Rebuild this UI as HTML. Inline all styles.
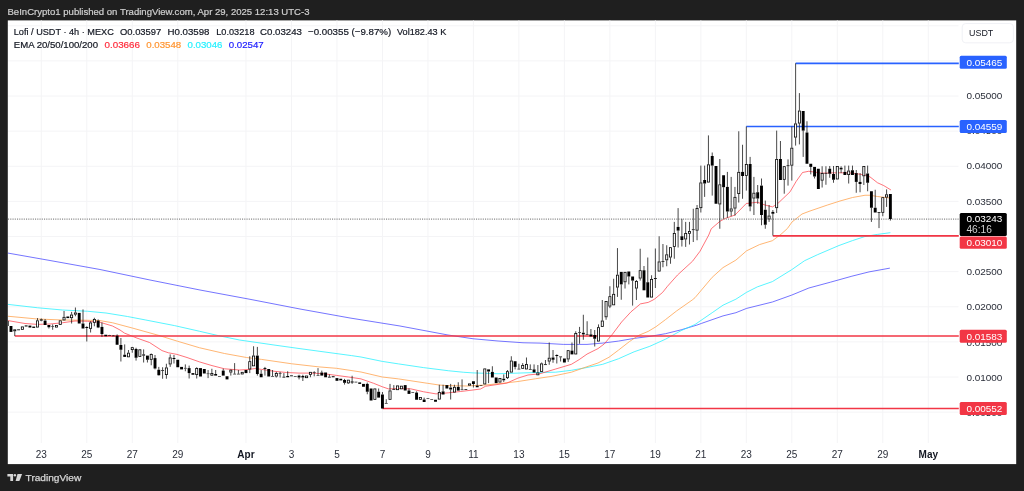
<!DOCTYPE html>
<html lang="en"><head><meta charset="utf-8"><title>Lofi / USDT chart</title>
<style>html,body{margin:0;padding:0;background:#1f1f1f;}body{width:1024px;height:491px;overflow:hidden;}svg{display:block;filter:blur(0.3px);}text{font-family:'Liberation Sans', Arial, sans-serif;}</style>
</head><body>
<svg width="1024" height="491" viewBox="0 0 1024 491">
<rect x="0" y="0" width="1024" height="491" fill="#1f1f1f"/>
<rect x="7.8" y="20.4" width="1008.4" height="443.7" fill="#ffffff"/>
<g stroke="#f4f4f6" stroke-width="1" shape-rendering="auto">
<line x1="41.30" y1="20.4" x2="41.30" y2="443" />
<line x1="86.79" y1="20.4" x2="86.79" y2="443" />
<line x1="132.27" y1="20.4" x2="132.27" y2="443" />
<line x1="177.76" y1="20.4" x2="177.76" y2="443" />
<line x1="245.99" y1="20.4" x2="245.99" y2="443" />
<line x1="291.47" y1="20.4" x2="291.47" y2="443" />
<line x1="336.96" y1="20.4" x2="336.96" y2="443" />
<line x1="382.45" y1="20.4" x2="382.45" y2="443" />
<line x1="427.93" y1="20.4" x2="427.93" y2="443" />
<line x1="473.42" y1="20.4" x2="473.42" y2="443" />
<line x1="518.90" y1="20.4" x2="518.90" y2="443" />
<line x1="564.39" y1="20.4" x2="564.39" y2="443" />
<line x1="609.88" y1="20.4" x2="609.88" y2="443" />
<line x1="655.36" y1="20.4" x2="655.36" y2="443" />
<line x1="700.85" y1="20.4" x2="700.85" y2="443" />
<line x1="746.33" y1="20.4" x2="746.33" y2="443" />
<line x1="791.82" y1="20.4" x2="791.82" y2="443" />
<line x1="837.30" y1="20.4" x2="837.30" y2="443" />
<line x1="882.79" y1="20.4" x2="882.79" y2="443" />
<line x1="928.28" y1="20.4" x2="928.28" y2="443" />
<line x1="8" y1="25.75" x2="958.5" y2="25.75" />
<line x1="8" y1="60.88" x2="958.5" y2="60.88" />
<line x1="8" y1="96.00" x2="958.5" y2="96.00" />
<line x1="8" y1="131.13" x2="958.5" y2="131.13" />
<line x1="8" y1="166.25" x2="958.5" y2="166.25" />
<line x1="8" y1="201.38" x2="958.5" y2="201.38" />
<line x1="8" y1="236.50" x2="958.5" y2="236.50" />
<line x1="8" y1="271.62" x2="958.5" y2="271.62" />
<line x1="8" y1="306.75" x2="958.5" y2="306.75" />
<line x1="8" y1="341.88" x2="958.5" y2="341.88" />
<line x1="8" y1="377.00" x2="958.5" y2="377.00" />
<line x1="8" y1="412.13" x2="958.5" y2="412.13" />
</g>
<defs><clipPath id="pane"><rect x="8" y="20.4" width="951" height="423"/></clipPath></defs>
<g clip-path="url(#pane)">
<polyline points="7.50,253.00 50.00,260.50 100.00,269.50 150.00,280.00 200.00,290.00 250.00,299.30 300.00,309.00 350.00,318.00 400.00,326.00 448.00,335.00 473.00,338.75 498.00,341.00 523.00,342.75 540.00,343.10 563.50,344.40 587.00,344.40 602.70,343.10 618.40,341.10 634.10,338.40 649.80,336.40 665.50,333.70 681.20,329.80 696.90,325.10 701.50,323.40 723.00,315.90 735.90,312.70 746.60,308.40 772.40,302.00 791.70,295.10 808.90,288.00 830.40,282.20 851.90,276.20 869.00,271.90 889.50,268.20" fill="none" stroke="#3c3cff" stroke-width="0.95" stroke-opacity="0.75" stroke-linejoin="round" stroke-linecap="round"/>
<polyline points="8.00,304.40 37.50,307.75 62.50,310.00 87.50,311.25 106.00,313.00 127.50,316.50 145.75,320.00 174.50,325.60 199.50,331.25 218.25,335.60 239.50,340.00 274.00,345.00 299.00,348.50 324.00,351.90 351.50,355.60 361.00,357.00 382.25,361.40 398.50,363.90 423.50,367.60 448.50,370.75 463.50,372.25 473.00,372.90 498.00,373.75 518.00,373.10 535.50,372.50 540.00,372.50 555.70,372.20 571.40,370.30 587.00,367.50 602.70,364.30 618.40,358.80 634.10,351.80 649.80,346.30 665.50,339.20 681.20,330.60 695.00,324.50 712.20,312.70 723.00,305.20 735.90,299.20 746.60,292.30 757.30,286.90 772.40,281.60 791.70,269.70 804.60,260.70 817.50,254.70 839.00,245.50 852.50,240.60 864.70,236.60 877.50,234.40 890.00,232.75" fill="none" stroke="#22f0ff" stroke-width="0.95" stroke-opacity="0.80" stroke-linejoin="round" stroke-linecap="round"/>
<polyline points="8.00,316.25 37.50,319.00 62.50,320.00 87.50,320.25 100.00,320.60 112.50,322.75 132.60,328.10 158.25,335.25 177.60,341.25 199.50,347.75 224.50,353.50 246.50,357.50 261.50,359.40 291.50,363.75 319.00,366.90 336.50,368.30 361.00,372.00 382.25,377.00 398.50,378.90 427.25,383.25 439.75,385.10 448.00,385.60 466.75,386.00 485.50,385.00 504.25,383.10 518.00,381.50 535.50,378.75 548.00,376.90 551.00,376.50 571.40,372.20 587.00,366.70 598.00,363.00 609.00,357.25 618.40,350.20 629.40,341.60 638.80,335.30 648.20,331.40 656.00,326.70 665.50,319.60 676.50,311.00 692.20,300.00 695.00,297.70 712.20,277.30 723.00,267.60 735.90,260.10 746.60,250.80 759.50,244.60 772.40,240.70 781.00,234.30 787.40,228.50 792.00,222.00 802.00,214.00 810.00,211.00 827.50,205.00 840.00,201.00 852.50,197.50 865.00,195.25 870.00,195.25 877.50,196.50 890.00,198.00" fill="none" stroke="#ff9f47" stroke-width="0.95" stroke-opacity="0.80" stroke-linejoin="round" stroke-linecap="round"/>
<polyline points="8.00,320.60 25.00,323.50 37.50,324.40 50.00,324.00 62.50,322.75 75.00,321.00 87.50,321.25 100.00,322.25 112.50,326.00 120.00,330.00 124.50,333.10 137.00,338.10 149.50,342.50 162.00,350.60 168.25,352.75 177.00,354.40 187.00,357.50 199.50,361.90 212.00,365.60 224.50,368.80 232.00,369.40 239.50,370.00 249.00,369.40 255.25,368.50 261.50,369.40 274.00,371.25 286.50,372.50 299.00,373.10 311.50,373.10 324.00,373.75 336.50,375.40 348.50,377.00 361.00,378.90 373.50,383.25 382.25,386.75 388.50,388.90 398.50,388.50 411.00,388.90 423.50,391.75 436.00,393.90 448.50,392.80 460.50,391.50 473.00,390.00 480.50,389.00 485.50,386.25 498.00,384.40 506.75,383.10 518.00,378.10 528.00,375.00 538.00,374.00 540.00,373.70 555.70,369.00 571.40,364.30 579.20,359.60 587.00,354.10 598.00,348.60 604.30,343.90 612.20,334.50 621.60,322.00 631.00,311.80 640.40,303.90 648.20,302.40 653.00,300.00 655.00,298.75 662.50,292.50 667.50,286.25 677.50,275.00 692.50,261.25 700.00,251.25 708.75,235.00 711.25,228.75 720.00,221.25 725.00,218.50 735.00,215.00 746.25,203.50 757.50,202.25 765.00,205.00 772.50,206.90 777.50,203.75 790.00,191.90 796.25,181.25 802.50,172.50 808.75,171.25 821.25,173.10 840.00,172.75 852.50,173.10 865.00,175.00 870.00,176.90 877.50,182.75 883.75,185.60 890.60,189.75" fill="none" stroke="#ff3b45" stroke-width="0.95" stroke-opacity="0.75" stroke-linejoin="round" stroke-linecap="round"/>
<line x1="14.77" y1="336.00" x2="958.8" y2="336.00" stroke="#f23645" stroke-width="1.70"/>
<line x1="382.45" y1="408.50" x2="958.8" y2="408.50" stroke="#f23645" stroke-width="1.70"/>
<line x1="772.87" y1="235.80" x2="958.8" y2="235.80" stroke="#f23645" stroke-width="1.70"/>
<line x1="746.33" y1="126.50" x2="958.8" y2="126.50" stroke="#2962ff" stroke-width="1.70"/>
<line x1="795.61" y1="63.30" x2="958.8" y2="63.30" stroke="#2962ff" stroke-width="1.70"/>
<line x1="8" y1="219.1" x2="960" y2="219.1" stroke="#888" stroke-width="1.3" stroke-dasharray="1.1 1.15"/>
<rect x="5.74" y="321.00" width="2.90" height="5.00" fill="#000"/>
<rect x="9.53" y="326.00" width="2.90" height="5.90" fill="#000"/>
<line x1="14.77" y1="331.25" x2="14.77" y2="336.00" stroke="#1a1a1a" stroke-width="0.8"/>
<rect x="13.72" y="329.80" width="2.10" height="1.05" fill="#fff" stroke="#000" stroke-width="0.80"/>
<rect x="17.11" y="329.40" width="2.90" height="0.85" fill="#000"/>
<rect x="21.30" y="326.90" width="2.10" height="2.45" fill="#fff" stroke="#000" stroke-width="0.80"/>
<rect x="24.69" y="325.40" width="2.90" height="1.10" fill="#000"/>
<rect x="28.48" y="325.60" width="2.90" height="1.90" fill="#000"/>
<rect x="32.27" y="326.60" width="2.90" height="1.30" fill="#000"/>
<line x1="37.51" y1="318.10" x2="37.51" y2="320.40" stroke="#1a1a1a" stroke-width="0.8"/>
<rect x="36.46" y="320.80" width="2.10" height="6.30" fill="#fff" stroke="#000" stroke-width="0.80"/>
<line x1="41.30" y1="318.50" x2="41.30" y2="319.40" stroke="#1a1a1a" stroke-width="0.8"/>
<line x1="41.30" y1="320.60" x2="41.30" y2="321.25" stroke="#1a1a1a" stroke-width="0.8"/>
<rect x="39.85" y="319.40" width="2.90" height="1.20" fill="#000"/>
<line x1="45.09" y1="319.00" x2="45.09" y2="320.60" stroke="#1a1a1a" stroke-width="0.8"/>
<rect x="43.64" y="320.60" width="2.90" height="4.40" fill="#000"/>
<line x1="48.88" y1="327.25" x2="48.88" y2="328.50" stroke="#1a1a1a" stroke-width="0.8"/>
<rect x="47.43" y="325.00" width="2.90" height="2.25" fill="#000"/>
<line x1="52.67" y1="324.40" x2="52.67" y2="326.00" stroke="#1a1a1a" stroke-width="0.8"/>
<line x1="52.67" y1="326.60" x2="52.67" y2="329.75" stroke="#1a1a1a" stroke-width="0.8"/>
<rect x="51.22" y="326.00" width="2.90" height="0.60" fill="#000"/>
<rect x="55.41" y="325.40" width="2.10" height="1.70" fill="#fff" stroke="#000" stroke-width="0.80"/>
<rect x="59.20" y="320.80" width="2.10" height="3.80" fill="#fff" stroke="#000" stroke-width="0.80"/>
<line x1="64.04" y1="311.00" x2="64.04" y2="316.90" stroke="#1a1a1a" stroke-width="0.8"/>
<rect x="62.99" y="317.30" width="2.10" height="2.70" fill="#fff" stroke="#000" stroke-width="0.80"/>
<rect x="66.38" y="316.50" width="2.90" height="1.60" fill="#000"/>
<line x1="71.62" y1="311.90" x2="71.62" y2="314.60" stroke="#1a1a1a" stroke-width="0.8"/>
<line x1="71.62" y1="318.10" x2="71.62" y2="323.50" stroke="#1a1a1a" stroke-width="0.8"/>
<rect x="70.57" y="315.00" width="2.10" height="2.70" fill="#fff" stroke="#000" stroke-width="0.80"/>
<line x1="75.41" y1="307.50" x2="75.41" y2="312.50" stroke="#1a1a1a" stroke-width="0.8"/>
<line x1="75.41" y1="314.60" x2="75.41" y2="316.25" stroke="#1a1a1a" stroke-width="0.8"/>
<rect x="74.36" y="312.90" width="2.10" height="1.30" fill="#fff" stroke="#000" stroke-width="0.80"/>
<rect x="77.75" y="312.90" width="2.90" height="10.60" fill="#000"/>
<line x1="83.00" y1="309.40" x2="83.00" y2="323.50" stroke="#1a1a1a" stroke-width="0.8"/>
<rect x="81.55" y="323.50" width="2.90" height="5.00" fill="#000"/>
<line x1="86.79" y1="326.25" x2="86.79" y2="327.00" stroke="#1a1a1a" stroke-width="0.8"/>
<line x1="86.79" y1="328.00" x2="86.79" y2="341.50" stroke="#1a1a1a" stroke-width="0.8"/>
<rect x="85.34" y="327.00" width="2.90" height="1.00" fill="#000"/>
<line x1="90.58" y1="321.25" x2="90.58" y2="322.50" stroke="#1a1a1a" stroke-width="0.8"/>
<line x1="90.58" y1="328.75" x2="90.58" y2="332.50" stroke="#1a1a1a" stroke-width="0.8"/>
<rect x="89.53" y="322.90" width="2.10" height="5.45" fill="#fff" stroke="#000" stroke-width="0.80"/>
<line x1="94.37" y1="317.75" x2="94.37" y2="319.00" stroke="#1a1a1a" stroke-width="0.8"/>
<line x1="94.37" y1="322.75" x2="94.37" y2="326.25" stroke="#1a1a1a" stroke-width="0.8"/>
<rect x="93.32" y="319.40" width="2.10" height="2.95" fill="#fff" stroke="#000" stroke-width="0.80"/>
<line x1="98.16" y1="319.40" x2="98.16" y2="320.60" stroke="#1a1a1a" stroke-width="0.8"/>
<line x1="98.16" y1="327.50" x2="98.16" y2="328.10" stroke="#1a1a1a" stroke-width="0.8"/>
<rect x="96.71" y="320.60" width="2.90" height="6.90" fill="#000"/>
<line x1="101.95" y1="322.50" x2="101.95" y2="326.90" stroke="#1a1a1a" stroke-width="0.8"/>
<line x1="101.95" y1="334.00" x2="101.95" y2="336.90" stroke="#1a1a1a" stroke-width="0.8"/>
<rect x="100.50" y="326.90" width="2.90" height="7.10" fill="#000"/>
<rect x="104.29" y="334.75" width="2.90" height="1.50" fill="#000"/>
<line x1="109.53" y1="334.90" x2="109.53" y2="335.00" stroke="#1a1a1a" stroke-width="0.8"/>
<rect x="108.08" y="335.00" width="2.90" height="0.60" fill="#000"/>
<line x1="113.32" y1="335.00" x2="113.32" y2="335.60" stroke="#1a1a1a" stroke-width="0.8"/>
<rect x="111.87" y="335.60" width="2.90" height="0.65" fill="#000"/>
<line x1="117.11" y1="334.40" x2="117.11" y2="335.60" stroke="#1a1a1a" stroke-width="0.8"/>
<rect x="115.66" y="335.60" width="2.90" height="9.15" fill="#000"/>
<line x1="120.90" y1="338.00" x2="120.90" y2="345.00" stroke="#1a1a1a" stroke-width="0.8"/>
<line x1="120.90" y1="349.75" x2="120.90" y2="361.50" stroke="#1a1a1a" stroke-width="0.8"/>
<rect x="119.45" y="345.00" width="2.90" height="4.75" fill="#000"/>
<line x1="124.69" y1="344.40" x2="124.69" y2="354.75" stroke="#1a1a1a" stroke-width="0.8"/>
<rect x="123.24" y="354.75" width="2.90" height="2.15" fill="#000"/>
<line x1="128.48" y1="350.00" x2="128.48" y2="352.75" stroke="#1a1a1a" stroke-width="0.8"/>
<rect x="127.43" y="353.15" width="2.10" height="3.70" fill="#fff" stroke="#000" stroke-width="0.80"/>
<line x1="132.27" y1="346.90" x2="132.27" y2="347.25" stroke="#1a1a1a" stroke-width="0.8"/>
<line x1="132.27" y1="350.00" x2="132.27" y2="352.75" stroke="#1a1a1a" stroke-width="0.8"/>
<rect x="131.22" y="347.65" width="2.10" height="1.95" fill="#fff" stroke="#000" stroke-width="0.80"/>
<line x1="136.06" y1="347.75" x2="136.06" y2="349.00" stroke="#1a1a1a" stroke-width="0.8"/>
<line x1="136.06" y1="357.75" x2="136.06" y2="360.60" stroke="#1a1a1a" stroke-width="0.8"/>
<rect x="134.61" y="349.00" width="2.90" height="8.75" fill="#000"/>
<rect x="138.80" y="349.80" width="2.10" height="6.70" fill="#fff" stroke="#000" stroke-width="0.80"/>
<line x1="143.64" y1="349.40" x2="143.64" y2="354.40" stroke="#1a1a1a" stroke-width="0.8"/>
<line x1="143.64" y1="355.60" x2="143.64" y2="362.50" stroke="#1a1a1a" stroke-width="0.8"/>
<rect x="142.19" y="354.40" width="2.90" height="1.20" fill="#000"/>
<line x1="147.43" y1="359.75" x2="147.43" y2="362.50" stroke="#1a1a1a" stroke-width="0.8"/>
<rect x="145.98" y="355.60" width="2.90" height="4.15" fill="#000"/>
<line x1="151.22" y1="353.50" x2="151.22" y2="354.00" stroke="#1a1a1a" stroke-width="0.8"/>
<line x1="151.22" y1="359.75" x2="151.22" y2="365.25" stroke="#1a1a1a" stroke-width="0.8"/>
<rect x="150.17" y="354.40" width="2.10" height="4.95" fill="#fff" stroke="#000" stroke-width="0.80"/>
<line x1="155.01" y1="355.00" x2="155.01" y2="358.10" stroke="#1a1a1a" stroke-width="0.8"/>
<line x1="155.01" y1="368.50" x2="155.01" y2="369.40" stroke="#1a1a1a" stroke-width="0.8"/>
<rect x="153.56" y="358.10" width="2.90" height="10.40" fill="#000"/>
<line x1="158.81" y1="366.90" x2="158.81" y2="369.75" stroke="#1a1a1a" stroke-width="0.8"/>
<line x1="158.81" y1="375.25" x2="158.81" y2="375.60" stroke="#1a1a1a" stroke-width="0.8"/>
<rect x="157.36" y="369.75" width="2.90" height="5.50" fill="#000"/>
<line x1="162.60" y1="367.25" x2="162.60" y2="370.25" stroke="#1a1a1a" stroke-width="0.8"/>
<line x1="162.60" y1="371.00" x2="162.60" y2="378.75" stroke="#1a1a1a" stroke-width="0.8"/>
<rect x="161.15" y="370.25" width="2.90" height="0.75" fill="#000"/>
<line x1="166.39" y1="363.75" x2="166.39" y2="367.50" stroke="#1a1a1a" stroke-width="0.8"/>
<line x1="166.39" y1="375.00" x2="166.39" y2="378.75" stroke="#1a1a1a" stroke-width="0.8"/>
<rect x="165.34" y="367.90" width="2.10" height="6.70" fill="#fff" stroke="#000" stroke-width="0.80"/>
<line x1="170.18" y1="354.40" x2="170.18" y2="357.50" stroke="#1a1a1a" stroke-width="0.8"/>
<line x1="170.18" y1="364.40" x2="170.18" y2="366.90" stroke="#1a1a1a" stroke-width="0.8"/>
<rect x="169.13" y="357.90" width="2.10" height="6.10" fill="#fff" stroke="#000" stroke-width="0.80"/>
<line x1="173.97" y1="355.00" x2="173.97" y2="358.00" stroke="#1a1a1a" stroke-width="0.8"/>
<line x1="173.97" y1="359.00" x2="173.97" y2="363.50" stroke="#1a1a1a" stroke-width="0.8"/>
<rect x="172.52" y="358.00" width="2.90" height="1.00" fill="#000"/>
<rect x="176.31" y="359.75" width="2.90" height="7.50" fill="#000"/>
<rect x="180.10" y="366.90" width="2.90" height="2.50" fill="#000"/>
<line x1="185.34" y1="364.40" x2="185.34" y2="367.90" stroke="#1a1a1a" stroke-width="0.8"/>
<line x1="185.34" y1="368.50" x2="185.34" y2="371.25" stroke="#1a1a1a" stroke-width="0.8"/>
<rect x="183.89" y="367.90" width="2.90" height="0.60" fill="#000"/>
<line x1="189.13" y1="365.60" x2="189.13" y2="368.10" stroke="#1a1a1a" stroke-width="0.8"/>
<line x1="189.13" y1="373.10" x2="189.13" y2="378.50" stroke="#1a1a1a" stroke-width="0.8"/>
<rect x="187.68" y="368.10" width="2.90" height="5.00" fill="#000"/>
<rect x="191.47" y="373.10" width="2.90" height="1.65" fill="#000"/>
<line x1="196.71" y1="367.25" x2="196.71" y2="368.10" stroke="#1a1a1a" stroke-width="0.8"/>
<line x1="196.71" y1="375.00" x2="196.71" y2="378.50" stroke="#1a1a1a" stroke-width="0.8"/>
<rect x="195.66" y="368.50" width="2.10" height="6.10" fill="#fff" stroke="#000" stroke-width="0.80"/>
<rect x="199.05" y="368.10" width="2.90" height="8.40" fill="#000"/>
<rect x="202.84" y="369.00" width="2.90" height="4.50" fill="#000"/>
<line x1="208.08" y1="370.00" x2="208.08" y2="373.50" stroke="#1a1a1a" stroke-width="0.8"/>
<line x1="208.08" y1="374.10" x2="208.08" y2="378.10" stroke="#1a1a1a" stroke-width="0.8"/>
<rect x="206.63" y="373.50" width="2.90" height="0.60" fill="#000"/>
<line x1="211.87" y1="368.75" x2="211.87" y2="373.10" stroke="#1a1a1a" stroke-width="0.8"/>
<line x1="211.87" y1="375.60" x2="211.87" y2="376.00" stroke="#1a1a1a" stroke-width="0.8"/>
<rect x="210.82" y="373.50" width="2.10" height="1.70" fill="#fff" stroke="#000" stroke-width="0.80"/>
<line x1="215.66" y1="370.00" x2="215.66" y2="374.00" stroke="#1a1a1a" stroke-width="0.8"/>
<rect x="214.21" y="374.00" width="2.90" height="1.60" fill="#000"/>
<rect x="218.00" y="376.00" width="2.90" height="0.60" fill="#000"/>
<line x1="223.24" y1="368.75" x2="223.24" y2="370.60" stroke="#1a1a1a" stroke-width="0.8"/>
<rect x="221.79" y="370.60" width="2.90" height="5.00" fill="#000"/>
<rect x="225.58" y="376.25" width="2.90" height="3.15" fill="#000"/>
<line x1="230.82" y1="369.40" x2="230.82" y2="369.75" stroke="#1a1a1a" stroke-width="0.8"/>
<line x1="230.82" y1="372.50" x2="230.82" y2="375.60" stroke="#1a1a1a" stroke-width="0.8"/>
<rect x="229.78" y="370.15" width="2.10" height="1.95" fill="#fff" stroke="#000" stroke-width="0.80"/>
<line x1="234.62" y1="363.10" x2="234.62" y2="373.75" stroke="#1a1a1a" stroke-width="0.8"/>
<rect x="233.17" y="373.75" width="2.90" height="0.65" fill="#000"/>
<line x1="238.41" y1="370.00" x2="238.41" y2="373.75" stroke="#1a1a1a" stroke-width="0.8"/>
<rect x="236.96" y="373.75" width="2.90" height="0.65" fill="#000"/>
<rect x="241.15" y="372.30" width="2.10" height="1.70" fill="#fff" stroke="#000" stroke-width="0.80"/>
<rect x="244.54" y="370.00" width="2.90" height="3.10" fill="#000"/>
<line x1="249.78" y1="356.25" x2="249.78" y2="361.25" stroke="#1a1a1a" stroke-width="0.8"/>
<line x1="249.78" y1="369.40" x2="249.78" y2="373.10" stroke="#1a1a1a" stroke-width="0.8"/>
<rect x="248.73" y="361.65" width="2.10" height="7.35" fill="#fff" stroke="#000" stroke-width="0.80"/>
<line x1="253.57" y1="346.25" x2="253.57" y2="355.60" stroke="#1a1a1a" stroke-width="0.8"/>
<rect x="252.52" y="356.00" width="2.10" height="9.85" fill="#fff" stroke="#000" stroke-width="0.80"/>
<line x1="257.36" y1="346.90" x2="257.36" y2="355.60" stroke="#1a1a1a" stroke-width="0.8"/>
<line x1="257.36" y1="374.00" x2="257.36" y2="375.60" stroke="#1a1a1a" stroke-width="0.8"/>
<rect x="255.91" y="355.60" width="2.90" height="18.40" fill="#000"/>
<line x1="261.15" y1="370.00" x2="261.15" y2="373.75" stroke="#1a1a1a" stroke-width="0.8"/>
<rect x="259.70" y="373.75" width="2.90" height="3.50" fill="#000"/>
<line x1="264.94" y1="366.90" x2="264.94" y2="368.10" stroke="#1a1a1a" stroke-width="0.8"/>
<line x1="264.94" y1="369.00" x2="264.94" y2="375.60" stroke="#1a1a1a" stroke-width="0.8"/>
<rect x="263.49" y="368.10" width="2.90" height="0.90" fill="#000"/>
<rect x="267.28" y="369.00" width="2.90" height="7.50" fill="#000"/>
<line x1="272.52" y1="370.00" x2="272.52" y2="376.00" stroke="#1a1a1a" stroke-width="0.8"/>
<rect x="271.07" y="376.00" width="2.90" height="0.60" fill="#000"/>
<line x1="276.31" y1="371.90" x2="276.31" y2="373.10" stroke="#1a1a1a" stroke-width="0.8"/>
<line x1="276.31" y1="376.50" x2="276.31" y2="377.50" stroke="#1a1a1a" stroke-width="0.8"/>
<rect x="275.26" y="373.50" width="2.10" height="2.60" fill="#fff" stroke="#000" stroke-width="0.80"/>
<line x1="280.10" y1="371.90" x2="280.10" y2="373.00" stroke="#1a1a1a" stroke-width="0.8"/>
<line x1="280.10" y1="373.60" x2="280.10" y2="377.50" stroke="#1a1a1a" stroke-width="0.8"/>
<rect x="278.65" y="373.00" width="2.90" height="0.60" fill="#000"/>
<line x1="283.89" y1="373.10" x2="283.89" y2="376.75" stroke="#1a1a1a" stroke-width="0.8"/>
<rect x="282.44" y="376.75" width="2.90" height="0.80" fill="#000"/>
<line x1="287.68" y1="371.25" x2="287.68" y2="376.00" stroke="#1a1a1a" stroke-width="0.8"/>
<rect x="286.23" y="376.00" width="2.90" height="1.25" fill="#000"/>
<rect x="290.02" y="375.40" width="2.90" height="0.85" fill="#000"/>
<rect x="293.81" y="376.00" width="2.90" height="0.60" fill="#000"/>
<line x1="299.05" y1="374.75" x2="299.05" y2="375.60" stroke="#1a1a1a" stroke-width="0.8"/>
<line x1="299.05" y1="377.50" x2="299.05" y2="379.40" stroke="#1a1a1a" stroke-width="0.8"/>
<rect x="297.60" y="375.60" width="2.90" height="1.90" fill="#000"/>
<line x1="302.84" y1="374.75" x2="302.84" y2="376.00" stroke="#1a1a1a" stroke-width="0.8"/>
<line x1="302.84" y1="377.50" x2="302.84" y2="381.00" stroke="#1a1a1a" stroke-width="0.8"/>
<rect x="301.39" y="376.00" width="2.90" height="1.50" fill="#000"/>
<rect x="305.59" y="376.00" width="2.10" height="1.70" fill="#fff" stroke="#000" stroke-width="0.80"/>
<line x1="310.43" y1="375.00" x2="310.43" y2="377.25" stroke="#1a1a1a" stroke-width="0.8"/>
<rect x="309.38" y="372.30" width="2.10" height="2.30" fill="#fff" stroke="#000" stroke-width="0.80"/>
<line x1="314.22" y1="371.25" x2="314.22" y2="372.00" stroke="#1a1a1a" stroke-width="0.8"/>
<line x1="314.22" y1="372.60" x2="314.22" y2="376.25" stroke="#1a1a1a" stroke-width="0.8"/>
<rect x="312.77" y="372.00" width="2.90" height="0.60" fill="#000"/>
<line x1="318.01" y1="368.10" x2="318.01" y2="375.00" stroke="#1a1a1a" stroke-width="0.8"/>
<rect x="316.56" y="375.00" width="2.90" height="0.60" fill="#000"/>
<line x1="321.80" y1="370.60" x2="321.80" y2="372.50" stroke="#1a1a1a" stroke-width="0.8"/>
<rect x="320.35" y="372.50" width="2.90" height="3.10" fill="#000"/>
<rect x="324.14" y="372.50" width="2.90" height="4.75" fill="#000"/>
<line x1="329.38" y1="374.40" x2="329.38" y2="376.75" stroke="#1a1a1a" stroke-width="0.8"/>
<rect x="327.93" y="376.75" width="2.90" height="0.80" fill="#000"/>
<rect x="331.72" y="376.25" width="2.90" height="1.00" fill="#000"/>
<rect x="335.51" y="378.10" width="2.90" height="2.70" fill="#000"/>
<rect x="339.30" y="378.75" width="2.90" height="1.65" fill="#000"/>
<line x1="344.54" y1="378.90" x2="344.54" y2="380.00" stroke="#1a1a1a" stroke-width="0.8"/>
<line x1="344.54" y1="382.80" x2="344.54" y2="384.60" stroke="#1a1a1a" stroke-width="0.8"/>
<rect x="343.09" y="380.00" width="2.90" height="2.80" fill="#000"/>
<line x1="348.33" y1="383.30" x2="348.33" y2="384.00" stroke="#1a1a1a" stroke-width="0.8"/>
<rect x="347.28" y="380.15" width="2.10" height="2.75" fill="#fff" stroke="#000" stroke-width="0.80"/>
<line x1="352.12" y1="375.75" x2="352.12" y2="381.40" stroke="#1a1a1a" stroke-width="0.8"/>
<line x1="352.12" y1="382.60" x2="352.12" y2="383.90" stroke="#1a1a1a" stroke-width="0.8"/>
<rect x="350.67" y="381.40" width="2.90" height="1.20" fill="#000"/>
<rect x="354.46" y="381.75" width="2.90" height="0.65" fill="#000"/>
<rect x="358.25" y="382.40" width="2.90" height="1.50" fill="#000"/>
<rect x="362.04" y="383.90" width="2.90" height="2.85" fill="#000"/>
<line x1="367.28" y1="382.60" x2="367.28" y2="383.90" stroke="#1a1a1a" stroke-width="0.8"/>
<line x1="367.28" y1="391.75" x2="367.28" y2="394.25" stroke="#1a1a1a" stroke-width="0.8"/>
<rect x="365.83" y="383.90" width="2.90" height="7.85" fill="#000"/>
<rect x="369.62" y="388.50" width="2.90" height="12.00" fill="#000"/>
<rect x="373.81" y="388.90" width="2.10" height="10.45" fill="#fff" stroke="#000" stroke-width="0.80"/>
<line x1="378.65" y1="388.50" x2="378.65" y2="391.75" stroke="#1a1a1a" stroke-width="0.8"/>
<rect x="377.20" y="391.75" width="2.90" height="5.85" fill="#000"/>
<line x1="382.45" y1="392.00" x2="382.45" y2="394.50" stroke="#1a1a1a" stroke-width="0.8"/>
<rect x="381.00" y="394.50" width="2.90" height="14.00" fill="#000"/>
<line x1="386.24" y1="399.25" x2="386.24" y2="403.00" stroke="#1a1a1a" stroke-width="0.8"/>
<rect x="384.79" y="403.00" width="2.90" height="0.60" fill="#000"/>
<line x1="390.03" y1="383.90" x2="390.03" y2="390.50" stroke="#1a1a1a" stroke-width="0.8"/>
<rect x="388.98" y="390.90" width="2.10" height="8.45" fill="#fff" stroke="#000" stroke-width="0.80"/>
<line x1="393.82" y1="385.10" x2="393.82" y2="388.95" stroke="#1a1a1a" stroke-width="0.8"/>
<rect x="392.37" y="388.95" width="2.90" height="0.80" fill="#000"/>
<rect x="396.56" y="385.90" width="2.10" height="3.80" fill="#fff" stroke="#000" stroke-width="0.80"/>
<rect x="400.35" y="386.15" width="2.10" height="2.70" fill="#fff" stroke="#000" stroke-width="0.80"/>
<rect x="403.74" y="385.10" width="2.90" height="5.40" fill="#000"/>
<line x1="408.98" y1="388.25" x2="408.98" y2="390.50" stroke="#1a1a1a" stroke-width="0.8"/>
<rect x="407.53" y="390.50" width="2.90" height="3.40" fill="#000"/>
<rect x="411.32" y="392.25" width="2.90" height="0.60" fill="#000"/>
<line x1="416.56" y1="391.40" x2="416.56" y2="392.60" stroke="#1a1a1a" stroke-width="0.8"/>
<rect x="415.11" y="392.60" width="2.90" height="7.15" fill="#000"/>
<rect x="419.30" y="397.40" width="2.10" height="1.95" fill="#fff" stroke="#000" stroke-width="0.80"/>
<line x1="424.14" y1="397.60" x2="424.14" y2="399.50" stroke="#1a1a1a" stroke-width="0.8"/>
<rect x="422.69" y="399.50" width="2.90" height="2.50" fill="#000"/>
<rect x="426.48" y="398.00" width="2.90" height="0.60" fill="#000"/>
<rect x="430.27" y="399.25" width="2.90" height="0.60" fill="#000"/>
<rect x="434.06" y="399.75" width="2.90" height="2.00" fill="#000"/>
<line x1="439.30" y1="384.75" x2="439.30" y2="392.00" stroke="#1a1a1a" stroke-width="0.8"/>
<rect x="438.25" y="392.40" width="2.10" height="6.70" fill="#fff" stroke="#000" stroke-width="0.80"/>
<line x1="443.09" y1="384.75" x2="443.09" y2="391.40" stroke="#1a1a1a" stroke-width="0.8"/>
<rect x="441.64" y="391.40" width="2.90" height="3.10" fill="#000"/>
<rect x="445.43" y="385.10" width="2.90" height="3.40" fill="#000"/>
<line x1="450.67" y1="383.90" x2="450.67" y2="387.60" stroke="#1a1a1a" stroke-width="0.8"/>
<line x1="450.67" y1="389.50" x2="450.67" y2="399.50" stroke="#1a1a1a" stroke-width="0.8"/>
<rect x="449.22" y="387.60" width="2.90" height="1.90" fill="#000"/>
<line x1="454.46" y1="384.75" x2="454.46" y2="386.90" stroke="#1a1a1a" stroke-width="0.8"/>
<rect x="453.41" y="387.30" width="2.10" height="4.80" fill="#fff" stroke="#000" stroke-width="0.80"/>
<line x1="458.26" y1="382.25" x2="458.26" y2="386.90" stroke="#1a1a1a" stroke-width="0.8"/>
<rect x="456.81" y="386.90" width="2.90" height="3.70" fill="#000"/>
<line x1="462.05" y1="379.40" x2="462.05" y2="389.50" stroke="#1a1a1a" stroke-width="0.8"/>
<rect x="460.60" y="389.50" width="2.90" height="0.60" fill="#000"/>
<rect x="464.39" y="389.00" width="2.90" height="0.75" fill="#000"/>
<rect x="468.58" y="383.90" width="2.10" height="1.30" fill="#fff" stroke="#000" stroke-width="0.80"/>
<line x1="473.42" y1="384.00" x2="473.42" y2="387.50" stroke="#1a1a1a" stroke-width="0.8"/>
<rect x="471.97" y="381.25" width="2.90" height="2.75" fill="#000"/>
<line x1="477.21" y1="370.00" x2="477.21" y2="385.60" stroke="#1a1a1a" stroke-width="0.8"/>
<rect x="475.76" y="385.60" width="2.90" height="1.65" fill="#000"/>
<rect x="479.55" y="385.00" width="2.90" height="0.60" fill="#000"/>
<rect x="483.74" y="368.90" width="2.10" height="15.10" fill="#fff" stroke="#000" stroke-width="0.80"/>
<line x1="488.58" y1="371.50" x2="488.58" y2="383.10" stroke="#1a1a1a" stroke-width="0.8"/>
<rect x="487.13" y="369.40" width="2.90" height="2.10" fill="#000"/>
<line x1="492.37" y1="366.25" x2="492.37" y2="371.90" stroke="#1a1a1a" stroke-width="0.8"/>
<rect x="490.92" y="371.90" width="2.90" height="5.60" fill="#000"/>
<rect x="494.71" y="377.50" width="2.90" height="5.60" fill="#000"/>
<rect x="498.90" y="378.50" width="2.10" height="3.60" fill="#fff" stroke="#000" stroke-width="0.80"/>
<line x1="503.74" y1="374.40" x2="503.74" y2="378.75" stroke="#1a1a1a" stroke-width="0.8"/>
<line x1="503.74" y1="380.25" x2="503.74" y2="381.90" stroke="#1a1a1a" stroke-width="0.8"/>
<rect x="502.29" y="378.75" width="2.90" height="1.50" fill="#000"/>
<line x1="507.53" y1="370.00" x2="507.53" y2="371.25" stroke="#1a1a1a" stroke-width="0.8"/>
<line x1="507.53" y1="378.10" x2="507.53" y2="379.00" stroke="#1a1a1a" stroke-width="0.8"/>
<rect x="506.48" y="371.65" width="2.10" height="6.05" fill="#fff" stroke="#000" stroke-width="0.80"/>
<line x1="511.32" y1="356.25" x2="511.32" y2="360.60" stroke="#1a1a1a" stroke-width="0.8"/>
<rect x="510.27" y="361.00" width="2.10" height="11.10" fill="#fff" stroke="#000" stroke-width="0.80"/>
<line x1="515.11" y1="366.90" x2="515.11" y2="369.40" stroke="#1a1a1a" stroke-width="0.8"/>
<rect x="513.66" y="361.25" width="2.90" height="5.65" fill="#000"/>
<line x1="518.90" y1="363.75" x2="518.90" y2="368.75" stroke="#1a1a1a" stroke-width="0.8"/>
<rect x="517.45" y="368.75" width="2.90" height="0.65" fill="#000"/>
<line x1="522.69" y1="363.10" x2="522.69" y2="365.00" stroke="#1a1a1a" stroke-width="0.8"/>
<rect x="521.64" y="365.40" width="2.10" height="2.95" fill="#fff" stroke="#000" stroke-width="0.80"/>
<line x1="526.48" y1="357.50" x2="526.48" y2="364.00" stroke="#1a1a1a" stroke-width="0.8"/>
<rect x="525.43" y="364.40" width="2.10" height="4.60" fill="#fff" stroke="#000" stroke-width="0.80"/>
<line x1="530.27" y1="364.40" x2="530.27" y2="369.10" stroke="#1a1a1a" stroke-width="0.8"/>
<rect x="528.82" y="369.10" width="2.90" height="0.65" fill="#000"/>
<line x1="534.07" y1="364.40" x2="534.07" y2="369.40" stroke="#1a1a1a" stroke-width="0.8"/>
<rect x="532.62" y="369.40" width="2.90" height="3.10" fill="#000"/>
<line x1="537.86" y1="365.00" x2="537.86" y2="372.50" stroke="#1a1a1a" stroke-width="0.8"/>
<rect x="536.81" y="372.90" width="2.10" height="1.95" fill="#fff" stroke="#000" stroke-width="0.80"/>
<line x1="541.65" y1="362.50" x2="541.65" y2="363.50" stroke="#1a1a1a" stroke-width="0.8"/>
<rect x="540.60" y="363.90" width="2.10" height="7.60" fill="#fff" stroke="#000" stroke-width="0.80"/>
<line x1="545.44" y1="360.00" x2="545.44" y2="364.25" stroke="#1a1a1a" stroke-width="0.8"/>
<rect x="543.99" y="364.25" width="2.90" height="0.80" fill="#000"/>
<line x1="549.23" y1="342.50" x2="549.23" y2="357.75" stroke="#1a1a1a" stroke-width="0.8"/>
<line x1="549.23" y1="361.50" x2="549.23" y2="364.75" stroke="#1a1a1a" stroke-width="0.8"/>
<rect x="548.18" y="358.15" width="2.10" height="2.95" fill="#fff" stroke="#000" stroke-width="0.80"/>
<line x1="553.02" y1="350.00" x2="553.02" y2="357.50" stroke="#1a1a1a" stroke-width="0.8"/>
<line x1="553.02" y1="359.75" x2="553.02" y2="362.75" stroke="#1a1a1a" stroke-width="0.8"/>
<rect x="551.57" y="357.50" width="2.90" height="2.25" fill="#000"/>
<line x1="556.81" y1="354.40" x2="556.81" y2="355.00" stroke="#1a1a1a" stroke-width="0.8"/>
<line x1="556.81" y1="356.00" x2="556.81" y2="363.50" stroke="#1a1a1a" stroke-width="0.8"/>
<rect x="555.36" y="355.00" width="2.90" height="1.00" fill="#000"/>
<line x1="560.60" y1="357.25" x2="560.60" y2="361.50" stroke="#1a1a1a" stroke-width="0.8"/>
<rect x="559.15" y="356.50" width="2.90" height="0.75" fill="#000"/>
<rect x="562.94" y="358.50" width="2.90" height="4.00" fill="#000"/>
<line x1="568.18" y1="359.40" x2="568.18" y2="361.90" stroke="#1a1a1a" stroke-width="0.8"/>
<rect x="567.13" y="350.65" width="2.10" height="8.35" fill="#fff" stroke="#000" stroke-width="0.80"/>
<line x1="571.97" y1="342.50" x2="571.97" y2="350.60" stroke="#1a1a1a" stroke-width="0.8"/>
<rect x="570.52" y="350.60" width="2.90" height="3.80" fill="#000"/>
<line x1="575.76" y1="331.25" x2="575.76" y2="333.10" stroke="#1a1a1a" stroke-width="0.8"/>
<rect x="574.71" y="333.50" width="2.10" height="20.50" fill="#fff" stroke="#000" stroke-width="0.80"/>
<line x1="579.55" y1="326.90" x2="579.55" y2="332.25" stroke="#1a1a1a" stroke-width="0.8"/>
<line x1="579.55" y1="332.90" x2="579.55" y2="343.75" stroke="#1a1a1a" stroke-width="0.8"/>
<rect x="578.10" y="332.25" width="2.90" height="0.65" fill="#000"/>
<line x1="583.34" y1="314.75" x2="583.34" y2="332.75" stroke="#1a1a1a" stroke-width="0.8"/>
<line x1="583.34" y1="334.40" x2="583.34" y2="339.75" stroke="#1a1a1a" stroke-width="0.8"/>
<rect x="581.89" y="332.75" width="2.90" height="1.65" fill="#000"/>
<line x1="587.13" y1="321.25" x2="587.13" y2="334.40" stroke="#1a1a1a" stroke-width="0.8"/>
<rect x="585.68" y="334.40" width="2.90" height="0.60" fill="#000"/>
<line x1="590.92" y1="329.00" x2="590.92" y2="334.40" stroke="#1a1a1a" stroke-width="0.8"/>
<rect x="589.47" y="334.40" width="2.90" height="2.10" fill="#000"/>
<line x1="594.71" y1="330.00" x2="594.71" y2="335.00" stroke="#1a1a1a" stroke-width="0.8"/>
<line x1="594.71" y1="338.75" x2="594.71" y2="346.50" stroke="#1a1a1a" stroke-width="0.8"/>
<rect x="593.26" y="335.00" width="2.90" height="3.75" fill="#000"/>
<line x1="598.50" y1="324.40" x2="598.50" y2="327.25" stroke="#1a1a1a" stroke-width="0.8"/>
<rect x="597.45" y="327.65" width="2.10" height="13.45" fill="#fff" stroke="#000" stroke-width="0.80"/>
<line x1="602.29" y1="300.00" x2="602.29" y2="320.60" stroke="#1a1a1a" stroke-width="0.8"/>
<rect x="601.24" y="321.00" width="2.10" height="5.50" fill="#fff" stroke="#000" stroke-width="0.80"/>
<line x1="606.08" y1="317.25" x2="606.08" y2="319.75" stroke="#1a1a1a" stroke-width="0.8"/>
<rect x="605.03" y="301.40" width="2.10" height="15.45" fill="#fff" stroke="#000" stroke-width="0.80"/>
<line x1="609.88" y1="286.25" x2="609.88" y2="296.25" stroke="#1a1a1a" stroke-width="0.8"/>
<line x1="609.88" y1="306.50" x2="609.88" y2="308.10" stroke="#1a1a1a" stroke-width="0.8"/>
<rect x="608.82" y="296.65" width="2.10" height="9.45" fill="#fff" stroke="#000" stroke-width="0.80"/>
<line x1="613.67" y1="278.75" x2="613.67" y2="293.90" stroke="#1a1a1a" stroke-width="0.8"/>
<rect x="612.62" y="294.30" width="2.10" height="10.55" fill="#fff" stroke="#000" stroke-width="0.80"/>
<line x1="617.46" y1="248.10" x2="617.46" y2="274.75" stroke="#1a1a1a" stroke-width="0.8"/>
<line x1="617.46" y1="287.50" x2="617.46" y2="296.90" stroke="#1a1a1a" stroke-width="0.8"/>
<rect x="616.41" y="275.15" width="2.10" height="11.95" fill="#fff" stroke="#000" stroke-width="0.80"/>
<line x1="621.25" y1="284.40" x2="621.25" y2="299.75" stroke="#1a1a1a" stroke-width="0.8"/>
<rect x="619.80" y="271.90" width="2.90" height="12.50" fill="#000"/>
<line x1="625.04" y1="282.25" x2="625.04" y2="288.50" stroke="#1a1a1a" stroke-width="0.8"/>
<rect x="623.99" y="272.30" width="2.10" height="9.55" fill="#fff" stroke="#000" stroke-width="0.80"/>
<line x1="628.83" y1="276.50" x2="628.83" y2="284.40" stroke="#1a1a1a" stroke-width="0.8"/>
<rect x="627.38" y="271.50" width="2.90" height="5.00" fill="#000"/>
<line x1="632.62" y1="280.60" x2="632.62" y2="305.60" stroke="#1a1a1a" stroke-width="0.8"/>
<rect x="631.17" y="276.50" width="2.90" height="4.10" fill="#000"/>
<line x1="636.41" y1="280.00" x2="636.41" y2="281.00" stroke="#1a1a1a" stroke-width="0.8"/>
<line x1="636.41" y1="288.50" x2="636.41" y2="300.00" stroke="#1a1a1a" stroke-width="0.8"/>
<rect x="635.36" y="281.40" width="2.10" height="6.70" fill="#fff" stroke="#000" stroke-width="0.80"/>
<line x1="640.20" y1="248.75" x2="640.20" y2="270.25" stroke="#1a1a1a" stroke-width="0.8"/>
<line x1="640.20" y1="278.50" x2="640.20" y2="280.60" stroke="#1a1a1a" stroke-width="0.8"/>
<rect x="639.15" y="270.65" width="2.10" height="7.45" fill="#fff" stroke="#000" stroke-width="0.80"/>
<line x1="643.99" y1="266.00" x2="643.99" y2="270.25" stroke="#1a1a1a" stroke-width="0.8"/>
<rect x="642.54" y="270.25" width="2.90" height="20.05" fill="#000"/>
<line x1="647.78" y1="257.50" x2="647.78" y2="282.25" stroke="#1a1a1a" stroke-width="0.8"/>
<rect x="646.33" y="282.25" width="2.90" height="15.25" fill="#000"/>
<line x1="651.57" y1="275.25" x2="651.57" y2="279.00" stroke="#1a1a1a" stroke-width="0.8"/>
<rect x="650.52" y="279.40" width="2.10" height="17.70" fill="#fff" stroke="#000" stroke-width="0.80"/>
<line x1="655.36" y1="248.50" x2="655.36" y2="278.10" stroke="#1a1a1a" stroke-width="0.8"/>
<line x1="655.36" y1="279.00" x2="655.36" y2="288.00" stroke="#1a1a1a" stroke-width="0.8"/>
<rect x="653.91" y="278.10" width="2.90" height="0.90" fill="#000"/>
<line x1="659.15" y1="236.25" x2="659.15" y2="261.50" stroke="#1a1a1a" stroke-width="0.8"/>
<rect x="658.10" y="261.90" width="2.10" height="9.20" fill="#fff" stroke="#000" stroke-width="0.80"/>
<line x1="662.94" y1="244.00" x2="662.94" y2="261.00" stroke="#1a1a1a" stroke-width="0.8"/>
<line x1="662.94" y1="261.75" x2="662.94" y2="267.25" stroke="#1a1a1a" stroke-width="0.8"/>
<rect x="661.49" y="261.00" width="2.90" height="0.75" fill="#000"/>
<line x1="666.73" y1="245.25" x2="666.73" y2="254.40" stroke="#1a1a1a" stroke-width="0.8"/>
<line x1="666.73" y1="260.25" x2="666.73" y2="266.25" stroke="#1a1a1a" stroke-width="0.8"/>
<rect x="665.68" y="254.80" width="2.10" height="5.05" fill="#fff" stroke="#000" stroke-width="0.80"/>
<line x1="670.52" y1="257.50" x2="670.52" y2="263.75" stroke="#1a1a1a" stroke-width="0.8"/>
<rect x="669.47" y="247.65" width="2.10" height="9.45" fill="#fff" stroke="#000" stroke-width="0.80"/>
<line x1="674.31" y1="221.90" x2="674.31" y2="233.10" stroke="#1a1a1a" stroke-width="0.8"/>
<line x1="674.31" y1="246.90" x2="674.31" y2="258.75" stroke="#1a1a1a" stroke-width="0.8"/>
<rect x="673.26" y="233.50" width="2.10" height="13.00" fill="#fff" stroke="#000" stroke-width="0.80"/>
<line x1="678.10" y1="208.10" x2="678.10" y2="226.90" stroke="#1a1a1a" stroke-width="0.8"/>
<line x1="678.10" y1="230.60" x2="678.10" y2="247.50" stroke="#1a1a1a" stroke-width="0.8"/>
<rect x="676.65" y="226.90" width="2.90" height="3.70" fill="#000"/>
<line x1="681.89" y1="218.75" x2="681.89" y2="236.25" stroke="#1a1a1a" stroke-width="0.8"/>
<line x1="681.89" y1="240.00" x2="681.89" y2="246.50" stroke="#1a1a1a" stroke-width="0.8"/>
<rect x="680.44" y="236.25" width="2.90" height="3.75" fill="#000"/>
<line x1="685.68" y1="221.90" x2="685.68" y2="233.10" stroke="#1a1a1a" stroke-width="0.8"/>
<line x1="685.68" y1="239.40" x2="685.68" y2="246.90" stroke="#1a1a1a" stroke-width="0.8"/>
<rect x="684.63" y="233.50" width="2.10" height="5.50" fill="#fff" stroke="#000" stroke-width="0.80"/>
<line x1="689.48" y1="221.90" x2="689.48" y2="231.00" stroke="#1a1a1a" stroke-width="0.8"/>
<line x1="689.48" y1="233.75" x2="689.48" y2="244.50" stroke="#1a1a1a" stroke-width="0.8"/>
<rect x="688.43" y="231.40" width="2.10" height="1.95" fill="#fff" stroke="#000" stroke-width="0.80"/>
<line x1="693.27" y1="208.75" x2="693.27" y2="229.30" stroke="#1a1a1a" stroke-width="0.8"/>
<line x1="693.27" y1="230.10" x2="693.27" y2="242.00" stroke="#1a1a1a" stroke-width="0.8"/>
<rect x="691.82" y="229.30" width="2.90" height="0.80" fill="#000"/>
<line x1="697.06" y1="205.00" x2="697.06" y2="208.10" stroke="#1a1a1a" stroke-width="0.8"/>
<line x1="697.06" y1="230.60" x2="697.06" y2="240.25" stroke="#1a1a1a" stroke-width="0.8"/>
<rect x="696.01" y="208.50" width="2.10" height="21.70" fill="#fff" stroke="#000" stroke-width="0.80"/>
<line x1="700.85" y1="165.60" x2="700.85" y2="182.50" stroke="#1a1a1a" stroke-width="0.8"/>
<line x1="700.85" y1="208.10" x2="700.85" y2="212.50" stroke="#1a1a1a" stroke-width="0.8"/>
<rect x="699.80" y="182.90" width="2.10" height="24.80" fill="#fff" stroke="#000" stroke-width="0.80"/>
<line x1="704.64" y1="165.60" x2="704.64" y2="180.00" stroke="#1a1a1a" stroke-width="0.8"/>
<line x1="704.64" y1="183.50" x2="704.64" y2="196.90" stroke="#1a1a1a" stroke-width="0.8"/>
<rect x="703.19" y="180.00" width="2.90" height="3.50" fill="#000"/>
<line x1="708.43" y1="135.40" x2="708.43" y2="164.40" stroke="#1a1a1a" stroke-width="0.8"/>
<rect x="707.38" y="164.80" width="2.10" height="17.30" fill="#fff" stroke="#000" stroke-width="0.80"/>
<line x1="712.22" y1="152.50" x2="712.22" y2="156.00" stroke="#1a1a1a" stroke-width="0.8"/>
<line x1="712.22" y1="165.60" x2="712.22" y2="195.60" stroke="#1a1a1a" stroke-width="0.8"/>
<rect x="710.77" y="156.00" width="2.90" height="9.60" fill="#000"/>
<rect x="714.56" y="166.00" width="2.90" height="37.75" fill="#000"/>
<line x1="719.80" y1="159.00" x2="719.80" y2="184.40" stroke="#1a1a1a" stroke-width="0.8"/>
<line x1="719.80" y1="204.40" x2="719.80" y2="228.75" stroke="#1a1a1a" stroke-width="0.8"/>
<rect x="718.75" y="184.80" width="2.10" height="19.20" fill="#fff" stroke="#000" stroke-width="0.80"/>
<line x1="723.59" y1="187.20" x2="723.59" y2="218.75" stroke="#1a1a1a" stroke-width="0.8"/>
<rect x="722.14" y="175.25" width="2.90" height="11.95" fill="#000"/>
<line x1="727.38" y1="171.90" x2="727.38" y2="186.90" stroke="#1a1a1a" stroke-width="0.8"/>
<line x1="727.38" y1="211.50" x2="727.38" y2="217.75" stroke="#1a1a1a" stroke-width="0.8"/>
<rect x="725.93" y="186.90" width="2.90" height="24.60" fill="#000"/>
<line x1="731.17" y1="176.90" x2="731.17" y2="208.50" stroke="#1a1a1a" stroke-width="0.8"/>
<line x1="731.17" y1="211.50" x2="731.17" y2="216.25" stroke="#1a1a1a" stroke-width="0.8"/>
<rect x="730.12" y="208.90" width="2.10" height="2.20" fill="#fff" stroke="#000" stroke-width="0.80"/>
<line x1="734.96" y1="186.90" x2="734.96" y2="196.90" stroke="#1a1a1a" stroke-width="0.8"/>
<line x1="734.96" y1="208.50" x2="734.96" y2="215.60" stroke="#1a1a1a" stroke-width="0.8"/>
<rect x="733.91" y="197.30" width="2.10" height="10.80" fill="#fff" stroke="#000" stroke-width="0.80"/>
<line x1="738.75" y1="131.25" x2="738.75" y2="171.90" stroke="#1a1a1a" stroke-width="0.8"/>
<line x1="738.75" y1="194.00" x2="738.75" y2="202.50" stroke="#1a1a1a" stroke-width="0.8"/>
<rect x="737.70" y="172.30" width="2.10" height="21.30" fill="#fff" stroke="#000" stroke-width="0.80"/>
<line x1="742.54" y1="144.75" x2="742.54" y2="171.90" stroke="#1a1a1a" stroke-width="0.8"/>
<line x1="742.54" y1="176.00" x2="742.54" y2="198.75" stroke="#1a1a1a" stroke-width="0.8"/>
<rect x="741.09" y="171.90" width="2.90" height="4.10" fill="#000"/>
<line x1="746.33" y1="126.50" x2="746.33" y2="164.00" stroke="#1a1a1a" stroke-width="0.8"/>
<line x1="746.33" y1="176.00" x2="746.33" y2="190.60" stroke="#1a1a1a" stroke-width="0.8"/>
<rect x="745.28" y="164.40" width="2.10" height="11.20" fill="#fff" stroke="#000" stroke-width="0.80"/>
<line x1="750.12" y1="156.90" x2="750.12" y2="164.00" stroke="#1a1a1a" stroke-width="0.8"/>
<line x1="750.12" y1="206.50" x2="750.12" y2="211.25" stroke="#1a1a1a" stroke-width="0.8"/>
<rect x="748.67" y="164.00" width="2.90" height="42.50" fill="#000"/>
<line x1="753.91" y1="176.90" x2="753.91" y2="192.75" stroke="#1a1a1a" stroke-width="0.8"/>
<line x1="753.91" y1="198.50" x2="753.91" y2="215.00" stroke="#1a1a1a" stroke-width="0.8"/>
<rect x="752.86" y="193.15" width="2.10" height="4.95" fill="#fff" stroke="#000" stroke-width="0.80"/>
<line x1="757.70" y1="185.00" x2="757.70" y2="192.25" stroke="#1a1a1a" stroke-width="0.8"/>
<line x1="757.70" y1="198.50" x2="757.70" y2="203.75" stroke="#1a1a1a" stroke-width="0.8"/>
<rect x="756.25" y="192.25" width="2.90" height="6.25" fill="#000"/>
<line x1="761.50" y1="178.50" x2="761.50" y2="185.60" stroke="#1a1a1a" stroke-width="0.8"/>
<line x1="761.50" y1="215.00" x2="761.50" y2="225.25" stroke="#1a1a1a" stroke-width="0.8"/>
<rect x="760.04" y="185.60" width="2.90" height="29.40" fill="#000"/>
<line x1="765.29" y1="200.60" x2="765.29" y2="209.75" stroke="#1a1a1a" stroke-width="0.8"/>
<line x1="765.29" y1="224.75" x2="765.29" y2="228.75" stroke="#1a1a1a" stroke-width="0.8"/>
<rect x="763.84" y="209.75" width="2.90" height="15.00" fill="#000"/>
<line x1="769.08" y1="205.00" x2="769.08" y2="215.60" stroke="#1a1a1a" stroke-width="0.8"/>
<line x1="769.08" y1="219.40" x2="769.08" y2="221.90" stroke="#1a1a1a" stroke-width="0.8"/>
<rect x="768.03" y="216.00" width="2.10" height="3.00" fill="#fff" stroke="#000" stroke-width="0.80"/>
<line x1="772.87" y1="210.00" x2="772.87" y2="211.90" stroke="#1a1a1a" stroke-width="0.8"/>
<line x1="772.87" y1="213.75" x2="772.87" y2="235.60" stroke="#1a1a1a" stroke-width="0.8"/>
<rect x="771.42" y="211.90" width="2.90" height="1.85" fill="#000"/>
<line x1="776.66" y1="130.60" x2="776.66" y2="159.00" stroke="#1a1a1a" stroke-width="0.8"/>
<line x1="776.66" y1="208.10" x2="776.66" y2="213.00" stroke="#1a1a1a" stroke-width="0.8"/>
<rect x="775.61" y="159.40" width="2.10" height="48.30" fill="#fff" stroke="#000" stroke-width="0.80"/>
<line x1="780.45" y1="141.00" x2="780.45" y2="159.00" stroke="#1a1a1a" stroke-width="0.8"/>
<rect x="779.00" y="159.00" width="2.90" height="21.00" fill="#000"/>
<line x1="784.24" y1="179.75" x2="784.24" y2="193.70" stroke="#1a1a1a" stroke-width="0.8"/>
<rect x="783.19" y="166.65" width="2.10" height="12.70" fill="#fff" stroke="#000" stroke-width="0.80"/>
<line x1="788.03" y1="159.40" x2="788.03" y2="165.30" stroke="#1a1a1a" stroke-width="0.8"/>
<line x1="788.03" y1="166.10" x2="788.03" y2="185.60" stroke="#1a1a1a" stroke-width="0.8"/>
<rect x="786.58" y="165.30" width="2.90" height="0.80" fill="#000"/>
<line x1="791.82" y1="126.50" x2="791.82" y2="147.75" stroke="#1a1a1a" stroke-width="0.8"/>
<line x1="791.82" y1="165.60" x2="791.82" y2="180.60" stroke="#1a1a1a" stroke-width="0.8"/>
<rect x="790.77" y="148.15" width="2.10" height="17.05" fill="#fff" stroke="#000" stroke-width="0.80"/>
<line x1="795.61" y1="63.30" x2="795.61" y2="123.50" stroke="#1a1a1a" stroke-width="0.8"/>
<line x1="795.61" y1="137.50" x2="795.61" y2="145.60" stroke="#1a1a1a" stroke-width="0.8"/>
<rect x="794.56" y="123.90" width="2.10" height="13.20" fill="#fff" stroke="#000" stroke-width="0.80"/>
<line x1="799.40" y1="93.10" x2="799.40" y2="110.60" stroke="#1a1a1a" stroke-width="0.8"/>
<line x1="799.40" y1="123.50" x2="799.40" y2="144.40" stroke="#1a1a1a" stroke-width="0.8"/>
<rect x="798.35" y="111.00" width="2.10" height="12.10" fill="#fff" stroke="#000" stroke-width="0.80"/>
<line x1="803.19" y1="130.60" x2="803.19" y2="156.90" stroke="#1a1a1a" stroke-width="0.8"/>
<rect x="801.74" y="111.00" width="2.90" height="19.60" fill="#000"/>
<line x1="806.98" y1="121.25" x2="806.98" y2="132.50" stroke="#1a1a1a" stroke-width="0.8"/>
<rect x="805.53" y="132.50" width="2.90" height="31.25" fill="#000"/>
<line x1="810.77" y1="166.90" x2="810.77" y2="174.40" stroke="#1a1a1a" stroke-width="0.8"/>
<rect x="809.32" y="163.75" width="2.90" height="3.15" fill="#000"/>
<line x1="814.56" y1="176.50" x2="814.56" y2="178.50" stroke="#1a1a1a" stroke-width="0.8"/>
<rect x="813.11" y="166.90" width="2.90" height="9.60" fill="#000"/>
<rect x="816.90" y="168.75" width="2.90" height="20.25" fill="#000"/>
<line x1="822.14" y1="166.25" x2="822.14" y2="173.10" stroke="#1a1a1a" stroke-width="0.8"/>
<line x1="822.14" y1="180.60" x2="822.14" y2="187.50" stroke="#1a1a1a" stroke-width="0.8"/>
<rect x="821.09" y="173.50" width="2.10" height="6.70" fill="#fff" stroke="#000" stroke-width="0.80"/>
<line x1="825.93" y1="166.25" x2="825.93" y2="173.10" stroke="#1a1a1a" stroke-width="0.8"/>
<line x1="825.93" y1="173.75" x2="825.93" y2="184.75" stroke="#1a1a1a" stroke-width="0.8"/>
<rect x="824.48" y="173.10" width="2.90" height="0.65" fill="#000"/>
<line x1="829.72" y1="166.00" x2="829.72" y2="168.75" stroke="#1a1a1a" stroke-width="0.8"/>
<line x1="829.72" y1="173.75" x2="829.72" y2="177.75" stroke="#1a1a1a" stroke-width="0.8"/>
<rect x="828.27" y="168.75" width="2.90" height="5.00" fill="#000"/>
<line x1="833.51" y1="166.00" x2="833.51" y2="174.00" stroke="#1a1a1a" stroke-width="0.8"/>
<line x1="833.51" y1="179.75" x2="833.51" y2="182.75" stroke="#1a1a1a" stroke-width="0.8"/>
<rect x="832.06" y="174.00" width="2.90" height="5.75" fill="#000"/>
<rect x="836.25" y="166.40" width="2.10" height="12.60" fill="#fff" stroke="#000" stroke-width="0.80"/>
<line x1="841.10" y1="166.25" x2="841.10" y2="167.75" stroke="#1a1a1a" stroke-width="0.8"/>
<line x1="841.10" y1="169.40" x2="841.10" y2="173.10" stroke="#1a1a1a" stroke-width="0.8"/>
<rect x="840.05" y="168.15" width="2.10" height="0.85" fill="#fff" stroke="#000" stroke-width="0.80"/>
<line x1="844.89" y1="165.60" x2="844.89" y2="171.90" stroke="#1a1a1a" stroke-width="0.8"/>
<rect x="843.44" y="171.90" width="2.90" height="3.10" fill="#000"/>
<line x1="848.68" y1="165.60" x2="848.68" y2="170.60" stroke="#1a1a1a" stroke-width="0.8"/>
<line x1="848.68" y1="175.00" x2="848.68" y2="183.50" stroke="#1a1a1a" stroke-width="0.8"/>
<rect x="847.63" y="171.00" width="2.10" height="3.60" fill="#fff" stroke="#000" stroke-width="0.80"/>
<line x1="852.47" y1="165.60" x2="852.47" y2="170.25" stroke="#1a1a1a" stroke-width="0.8"/>
<rect x="851.02" y="170.25" width="2.90" height="4.75" fill="#000"/>
<line x1="856.26" y1="170.00" x2="856.26" y2="173.10" stroke="#1a1a1a" stroke-width="0.8"/>
<line x1="856.26" y1="181.90" x2="856.26" y2="192.75" stroke="#1a1a1a" stroke-width="0.8"/>
<rect x="854.81" y="173.10" width="2.90" height="8.80" fill="#000"/>
<line x1="860.05" y1="173.10" x2="860.05" y2="181.90" stroke="#1a1a1a" stroke-width="0.8"/>
<line x1="860.05" y1="184.00" x2="860.05" y2="192.25" stroke="#1a1a1a" stroke-width="0.8"/>
<rect x="858.60" y="181.90" width="2.90" height="2.10" fill="#000"/>
<line x1="863.84" y1="176.25" x2="863.84" y2="185.00" stroke="#1a1a1a" stroke-width="0.8"/>
<rect x="862.79" y="166.40" width="2.10" height="9.45" fill="#fff" stroke="#000" stroke-width="0.80"/>
<line x1="867.63" y1="165.60" x2="867.63" y2="173.50" stroke="#1a1a1a" stroke-width="0.8"/>
<line x1="867.63" y1="182.75" x2="867.63" y2="191.25" stroke="#1a1a1a" stroke-width="0.8"/>
<rect x="866.18" y="173.50" width="2.90" height="9.25" fill="#000"/>
<line x1="871.42" y1="207.75" x2="871.42" y2="221.90" stroke="#1a1a1a" stroke-width="0.8"/>
<rect x="869.97" y="191.25" width="2.90" height="16.50" fill="#000"/>
<line x1="875.21" y1="189.75" x2="875.21" y2="207.75" stroke="#1a1a1a" stroke-width="0.8"/>
<rect x="873.76" y="207.75" width="2.90" height="4.75" fill="#000"/>
<line x1="879.00" y1="212.95" x2="879.00" y2="228.10" stroke="#1a1a1a" stroke-width="0.8"/>
<rect x="877.55" y="212.15" width="2.90" height="0.80" fill="#000"/>
<line x1="882.79" y1="212.75" x2="882.79" y2="216.25" stroke="#1a1a1a" stroke-width="0.8"/>
<rect x="881.74" y="197.65" width="2.10" height="14.70" fill="#fff" stroke="#000" stroke-width="0.80"/>
<line x1="886.58" y1="189.40" x2="886.58" y2="194.40" stroke="#1a1a1a" stroke-width="0.8"/>
<line x1="886.58" y1="197.50" x2="886.58" y2="206.90" stroke="#1a1a1a" stroke-width="0.8"/>
<rect x="885.53" y="194.80" width="2.10" height="2.30" fill="#fff" stroke="#000" stroke-width="0.80"/>
<line x1="890.37" y1="219.00" x2="890.37" y2="220.60" stroke="#1a1a1a" stroke-width="0.8"/>
<rect x="888.92" y="194.00" width="2.90" height="25.00" fill="#000"/>
</g>
<text x="966.4" y="98.95" font-size="9.6" fill="#2a2e39" textLength="36" lengthAdjust="spacingAndGlyphs">0.05000</text>
<text x="966.4" y="134.18" font-size="9.6" fill="#2a2e39" textLength="36" lengthAdjust="spacingAndGlyphs">0.04500</text>
<text x="966.4" y="169.40" font-size="9.6" fill="#2a2e39" textLength="36" lengthAdjust="spacingAndGlyphs">0.04000</text>
<text x="966.4" y="204.62" font-size="9.6" fill="#2a2e39" textLength="36" lengthAdjust="spacingAndGlyphs">0.03500</text>
<text x="966.4" y="275.08" font-size="9.6" fill="#2a2e39" textLength="36" lengthAdjust="spacingAndGlyphs">0.02500</text>
<text x="966.4" y="310.30" font-size="9.6" fill="#2a2e39" textLength="36" lengthAdjust="spacingAndGlyphs">0.02000</text>
<text x="966.4" y="345.53" font-size="9.6" fill="#2a2e39" textLength="36" lengthAdjust="spacingAndGlyphs">0.01500</text>
<text x="966.4" y="380.75" font-size="9.6" fill="#2a2e39" textLength="36" lengthAdjust="spacingAndGlyphs">0.01000</text>
<text x="966.4" y="415.98" font-size="9.6" fill="#2a2e39" textLength="36" lengthAdjust="spacingAndGlyphs">0.00500</text>
<rect x="959.7" y="55.80" width="47.1" height="13.00" rx="1.5" fill="#2962ff"/>
<text x="966.4" y="65.90" font-size="9.6" fill="#ffffff" textLength="36" lengthAdjust="spacingAndGlyphs">0.05465</text>
<rect x="959.7" y="120.00" width="47.1" height="13.00" rx="1.5" fill="#2962ff"/>
<text x="966.4" y="130.10" font-size="9.6" fill="#ffffff" textLength="36" lengthAdjust="spacingAndGlyphs">0.04559</text>
<rect x="959.7" y="329.70" width="47.1" height="13.00" rx="1.5" fill="#f23645"/>
<text x="966.4" y="339.80" font-size="9.6" fill="#ffffff" textLength="36" lengthAdjust="spacingAndGlyphs">0.01583</text>
<rect x="959.7" y="402.00" width="47.1" height="13.00" rx="1.5" fill="#f23645"/>
<text x="966.4" y="412.10" font-size="9.6" fill="#ffffff" textLength="36" lengthAdjust="spacingAndGlyphs">0.00552</text>
<rect x="959.7" y="213" width="47.1" height="23" rx="1.5" fill="#000000"/>
<text x="966.4" y="222.30" font-size="9.6" fill="#ffffff" textLength="36" lengthAdjust="spacingAndGlyphs">0.03243</text>
<text x="966.4" y="232.6" font-size="10" fill="#d0d0d0" textLength="25.5" lengthAdjust="spacingAndGlyphs">46:16</text>
<rect x="959.7" y="236.6" width="47.1" height="12.2" rx="1.5" fill="#f23645"/>
<text x="966.4" y="246.40" font-size="9.6" fill="#ffffff" textLength="36" lengthAdjust="spacingAndGlyphs">0.03010</text>
<rect x="962.2" y="23.5" width="51.2" height="19.3" rx="3.5" fill="#ffffff" stroke="#eceef2" stroke-width="0.8"/>
<text x="969.1" y="36.3" font-size="8.8" fill="#131722" textLength="24.2" lengthAdjust="spacingAndGlyphs">USDT</text>
<text x="41.30" y="458" font-size="10" text-anchor="middle" fill="#2a2e39">23</text>
<text x="86.79" y="458" font-size="10" text-anchor="middle" fill="#2a2e39">25</text>
<text x="132.27" y="458" font-size="10" text-anchor="middle" fill="#2a2e39">27</text>
<text x="177.76" y="458" font-size="10" text-anchor="middle" fill="#2a2e39">29</text>
<text x="245.99" y="458" font-size="10" text-anchor="middle" fill="#131722" font-weight="bold">Apr</text>
<text x="291.47" y="458" font-size="10" text-anchor="middle" fill="#2a2e39">3</text>
<text x="336.96" y="458" font-size="10" text-anchor="middle" fill="#2a2e39">5</text>
<text x="382.45" y="458" font-size="10" text-anchor="middle" fill="#2a2e39">7</text>
<text x="427.93" y="458" font-size="10" text-anchor="middle" fill="#2a2e39">9</text>
<text x="473.42" y="458" font-size="10" text-anchor="middle" fill="#2a2e39">11</text>
<text x="518.90" y="458" font-size="10" text-anchor="middle" fill="#2a2e39">13</text>
<text x="564.39" y="458" font-size="10" text-anchor="middle" fill="#2a2e39">15</text>
<text x="609.88" y="458" font-size="10" text-anchor="middle" fill="#2a2e39">17</text>
<text x="655.36" y="458" font-size="10" text-anchor="middle" fill="#2a2e39">19</text>
<text x="700.85" y="458" font-size="10" text-anchor="middle" fill="#2a2e39">21</text>
<text x="746.33" y="458" font-size="10" text-anchor="middle" fill="#2a2e39">23</text>
<text x="791.82" y="458" font-size="10" text-anchor="middle" fill="#2a2e39">25</text>
<text x="837.30" y="458" font-size="10" text-anchor="middle" fill="#2a2e39">27</text>
<text x="882.79" y="458" font-size="10" text-anchor="middle" fill="#2a2e39">29</text>
<text x="928.28" y="458" font-size="10" text-anchor="middle" fill="#131722" font-weight="bold">May</text>
<text x="13.75" y="35.00" font-size="9.6" fill="#131722" textLength="100.00" lengthAdjust="spacingAndGlyphs" xml:space="preserve" stroke="#131722" stroke-width="0.2">Lofi / USDT · 4h · MEXC</text>
<text x="120.00" y="35.00" font-size="9.6" fill="#131722" textLength="41.25" lengthAdjust="spacingAndGlyphs" xml:space="preserve" stroke="#131722" stroke-width="0.2">O0.03597</text>
<text x="167.50" y="35.00" font-size="9.6" fill="#131722" textLength="42.00" lengthAdjust="spacingAndGlyphs" xml:space="preserve" stroke="#131722" stroke-width="0.2">H0.03598</text>
<text x="216.25" y="35.00" font-size="9.6" fill="#131722" textLength="38.25" lengthAdjust="spacingAndGlyphs" xml:space="preserve" stroke="#131722" stroke-width="0.2">L0.03218</text>
<text x="260.00" y="35.00" font-size="9.6" fill="#131722" textLength="42.00" lengthAdjust="spacingAndGlyphs" xml:space="preserve" stroke="#131722" stroke-width="0.2">C0.03243</text>
<text x="308.00" y="35.00" font-size="9.6" fill="#131722" textLength="83.25" lengthAdjust="spacingAndGlyphs" xml:space="preserve" stroke="#131722" stroke-width="0.2">−0.00355 (−9.87%)</text>
<text x="397.00" y="35.00" font-size="9.6" fill="#131722" textLength="49.25" lengthAdjust="spacingAndGlyphs" xml:space="preserve" stroke="#131722" stroke-width="0.2">Vol182.43 K</text>
<text x="13.75" y="48.20" font-size="9.6" fill="#131722" textLength="84.25" lengthAdjust="spacingAndGlyphs" xml:space="preserve" stroke="#131722" stroke-width="0.2">EMA 20/50/100/200</text>
<text x="104.50" y="48.20" font-size="9.6" fill="#ff2d3d" textLength="35.50" lengthAdjust="spacingAndGlyphs" xml:space="preserve" stroke="#ff2d3d" stroke-width="0.2">0.03666</text>
<text x="146.25" y="48.20" font-size="9.6" fill="#ff9532" textLength="35.00" lengthAdjust="spacingAndGlyphs" xml:space="preserve" stroke="#ff9532" stroke-width="0.2">0.03548</text>
<text x="187.50" y="48.20" font-size="9.6" fill="#26f0ff" textLength="35.00" lengthAdjust="spacingAndGlyphs" xml:space="preserve" stroke="#26f0ff" stroke-width="0.2">0.03046</text>
<text x="228.75" y="48.20" font-size="9.6" fill="#2222ff" textLength="35.00" lengthAdjust="spacingAndGlyphs" xml:space="preserve" stroke="#2222ff" stroke-width="0.2">0.02547</text>
<text x="7.50" y="15.20" font-size="9.6" fill="#d0d0d0" textLength="302.00" lengthAdjust="spacingAndGlyphs" xml:space="preserve" stroke="#d0d0d0" stroke-width="0.2">BeInCrypto1 published on TradingView.com, Apr 29, 2025 12:13 UTC-3</text>
<g fill="#d6d6d6">
<path d="M7.4 473.9 H13.1 V481 H10.3 V476.5 H7.4 Z"/>
<circle cx="14.9" cy="475.2" r="1.2"/>
<path d="M17.5 473.9 H22.1 L19.4 481 H15.6 Z"/>
</g>
<text x="25.6" y="481.3" font-size="9.4" fill="#d6d6d6" textLength="55.6" lengthAdjust="spacingAndGlyphs" stroke="#d6d6d6" stroke-width="0.25">TradingView</text>
</svg>
</body></html>
